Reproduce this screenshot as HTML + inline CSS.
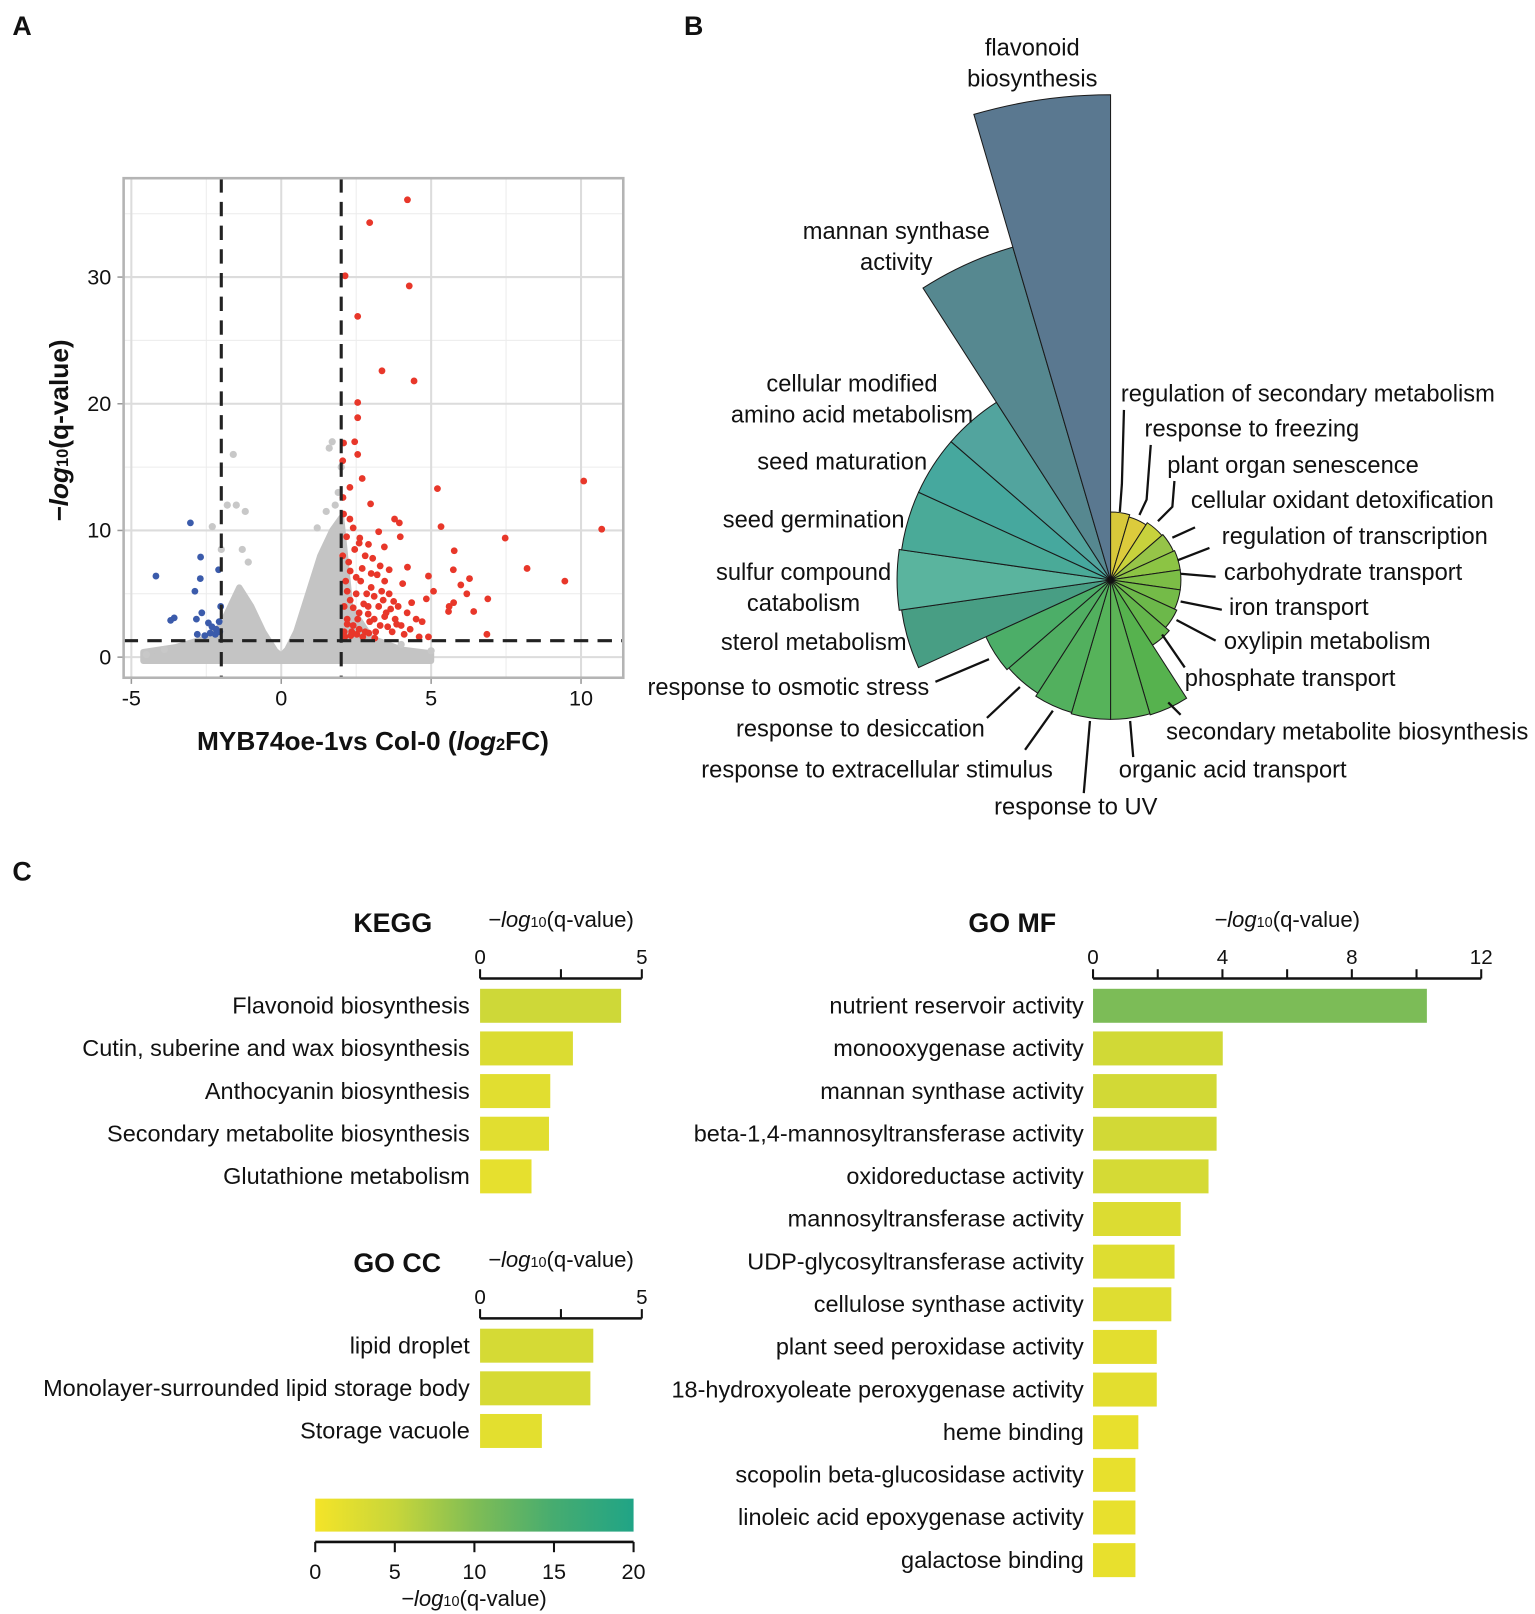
<!DOCTYPE html>
<html><head><meta charset="utf-8"><style>
html,body{margin:0;padding:0;background:#fff}
svg{display:block}
text{font-family:"Liberation Sans",sans-serif;fill:#111}
</style></head><body>
<svg id="fig" width="1535" height="1614" viewBox="0 0 1490 1567" preserveAspectRatio="none" xmlns="http://www.w3.org/2000/svg">
<g font-weight="bold" font-size="26">
<text x="12" y="34">A</text>
<text x="664" y="34">B</text>
<text x="12" y="855">C</text>
</g>
<g id="volcano"></g>
<g id="rose"></g>
<g id="bars"></g>
</svg>
<script>
// ---------- Volcano data ----------
const envelopeX = [-4.6,-3.5,-2.5,-2.0,-1.7,-1.4,-1.0,-0.6,-0.2,0,0.2,0.5,0.9,1.3,1.7,2.0,2.3,3.0,4.0,5.0];
const envelopeY = [0.4,0.8,1.5,2.5,4.0,5.5,4.0,2.0,0.5,0.1,0.6,2.0,5.0,8.0,10.0,11.0,4.0,1.5,0.6,0.3];
const grayPts = [[-1.6,16],[-1.8,12],[-1.5,12],[-1.2,11.5],[-2.3,10.3],[-1.3,8.5],[-2.0,8.5],[-1.1,7.5],[1.7,17],[1.6,16.5],[2.0,15],[1.9,13],[1.8,12],[1.5,11.5],[1.2,10.2],[-4.5,0.2],[-3.9,0.6],[5.0,0.5],[4.0,1]];
const redPts = [[4.21,36.1],[2.95,34.3],[2.13,30.1],[4.27,29.3],[2.55,26.9],[3.36,22.6],[4.43,21.8],[2.55,20.1],[2.55,18.9],[2.08,16.9],[2.45,17],[2.55,16],[2.05,15.5],[2.7,14.1],[2.29,13.4],[5.21,13.3],[10.09,13.9],[2.98,12.1],[2.06,12.6],[2.08,11.3],[2.29,10.9],[3.78,10.9],[3.94,10.6],[5.33,10.3],[10.69,10.1],[3.25,9.9],[7.47,9.4],[3.97,9.5],[2.62,9.4],[2.91,8.9],[3.44,8.7],[5.77,8.4],[4.21,7.1],[8.2,7],[5.74,6.9],[9.46,6],[4.91,6.4],[6.28,6.2],[5.99,5.7],[5.08,5.2],[6.19,5],[6.89,4.6],[4.84,4.6],[5.75,4.3],[5.6,4],[5.58,3.6],[6.42,3.6],[6.86,1.8],[4.91,1.6],
[2.1,2],[2.2,3],[2.3,4.5],[2.15,6],[2.4,2.5],[2.5,5],[2.6,3.5],[2.7,7],[2.8,2],[2.9,4],[3.0,5.5],[3.1,3],[3.2,6.5],[3.3,2.5],[3.4,4.5],[3.5,3.5],[3.6,5],[3.7,2],[3.8,3],[3.9,4],[4.0,2.5],[4.1,1.8],[4.2,3.5],[4.3,2.2],[4.5,3],[4.6,1.6],[2.05,8],[2.25,7.5],[2.45,8.5],[2.65,6],[2.85,5],[3.05,7.8],[3.25,4],[3.45,6],[3.65,3.8],[2.1,4],[2.2,5.2],[2.35,2],[2.55,3],[2.75,4.2],[2.95,2.8],[3.15,2],[3.35,5.2],[3.55,2.4],[3.75,4.4],[2.12,1.6],[2.32,1.7],[2.52,1.8],[2.72,1.6],[2.92,1.9],[3.12,1.5],[2.18,9.5],[2.4,10.2],[2.6,9],[2.3,6.8],[2.5,6.3],[2.8,8],[3.0,6.6],[3.3,7.2],[3.6,6.9],[2.9,3.4],[3.1,4.8],[2.4,3.9],[2.6,2.2],[2.2,2.6],[3.45,3.2],[3.85,2.6],[4.35,4.3],[4.7,2.8],[4.05,5.8]];
const bluePts = [[-4.18,6.4],[-3.03,10.6],[-2.69,7.9],[-2.7,6.2],[-2.88,5.2],[-2.65,3.5],[-2.83,3],[-3.57,3.1],[-3.69,2.9],[-2.8,1.8],[-2.09,6.9],[-2.02,4],[-2.43,2.7],[-2.31,2.4],[-2.17,2.2],[-2.55,1.7],[-2.2,1.8],[-2.05,2],[-2.37,1.9],[-2.07,2.8]];
const volXTicks = [-5,0,5,10];
const volYTicks = [0,10,20,30];
const fcCut = 2, qCut = 1.3;

// ---------- Rose data ----------
const roseCats = ["regulation of secondary metabolism","response to freezing","plant organ senescence","cellular oxidant detoxification","regulation of transcription","carbohydrate transport","iron transport","oxylipin metabolism","phosphate transport","secondary metabolite biosynthesis","organic acid transport","response to UV","response to extracellular stimulus","response to desiccation","response to osmotic stress","sterol metabolism","sulfur compound catabolism","seed germination","seed maturation","cellular modified amino acid metabolism","mannan synthase activity","flavonoid biosynthesis"];
const roseVals = [2.8,2.7,2.8,2.85,2.9,2.9,2.9,3.0,3.2,5.8,5.75,5.75,5.7,5.55,5.65,8.7,8.8,8.7,8.7,8.7,14.3,20];
const roseColors = ["#d8c83a","#dccb3c","#c8d23c","#96c448","#8cc444","#7cbd46","#74bb48","#6cb84a","#64b64c","#56b24e","#5cb456","#56b35a","#52b05e","#50ae62","#4cae68","#489e84","#5ab49e","#4aaa98","#46a89e","#52a49e","#568890","#5a7890"];

// ---------- Bar data ----------
const keggCats = ["Flavonoid biosynthesis","Cutin, suberine and wax biosynthesis","Anthocyanin biosynthesis","Secondary metabolite biosynthesis","Glutathione metabolism"];
const keggVals = [4.36,2.87,2.17,2.13,1.59];
const ccCats = ["lipid droplet","Monolayer-surrounded lipid storage body","Storage vacuole"];
const ccVals = [3.5,3.41,1.91];
const mfCats = ["nutrient reservoir activity","monooxygenase activity","mannan synthase activity","beta-1,4-mannosyltransferase activity","oxidoreductase activity","mannosyltransferase activity","UDP-glycosyltransferase activity","cellulose synthase activity","plant seed peroxidase activity","18-hydroxyoleate peroxygenase activity","heme binding","scopolin beta-glucosidase activity","linoleic acid epoxygenase activity","galactose binding"];
const mfVals = [10.32,4.01,3.82,3.82,3.57,2.71,2.52,2.42,1.97,1.97,1.40,1.31,1.31,1.31];
const smallTicks = [0,5];
const mfTicks = [0,4,8,12];
const cbTicks = [0,5,10,15,20];

const NS="http://www.w3.org/2000/svg";
function mk(tag, attrs, parent, txt){const e=document.createElementNS(NS,tag);for(const k in attrs)e.setAttribute(k,attrs[k]);if(txt!==undefined)e.textContent=txt;parent.appendChild(e);return e;}

// ===== Volcano =====
(function(){
const g=document.getElementById('volcano');
const xs=v=>273+v*29.1, ys=v=>638-v*12.3;
const L=120,R=605,T=173,B=658;
const bg=mk('rect',{x:L,y:T,width:R-L,height:B-T,fill:'#fff'},g);

[-2.5,2.5,7.5].forEach(v=>{const l=mk('line',{x1:xs(v),x2:xs(v),y1:T,y2:B,stroke:'#ececec','stroke-width':1},g);});
[5,15,25,35].forEach(v=>{const l=mk('line',{x1:L,x2:R,y1:ys(v),y2:ys(v),stroke:'#ececec','stroke-width':1},g);});
volXTicks.forEach(v=>{const l=mk('line',{x1:xs(v),x2:xs(v),y1:T,y2:B,stroke:'#dcdcdc','stroke-width':2},g);
 const tk=mk('line',{x1:xs(v),x2:xs(v),y1:B,y2:B+6,stroke:'#999','stroke-width':1.5},g);
 const t=mk('text',{x:xs(v),y:B+27,'text-anchor':'middle','font-size':21,fill:'#333'},g,String(v));});
volYTicks.forEach(v=>{const l=mk('line',{x1:L,x2:R,y1:ys(v),y2:ys(v),stroke:'#dcdcdc','stroke-width':2},g);
 const tk=mk('line',{x1:L-6,x2:L,y1:ys(v),y2:ys(v),stroke:'#999','stroke-width':1.5},g);
 const t=mk('text',{x:L-12,y:ys(v)+7,'text-anchor':'end','font-size':21,fill:'#333'},g,String(v));});
let d='M'+xs(envelopeX[0])+','+ys(-0.3);
envelopeX.forEach((x,i)=>{d+=' L'+xs(x)+','+ys(envelopeY[i]);});
d+=' L'+xs(envelopeX[envelopeX.length-1])+','+ys(-0.3)+' Z';
const env=mk('path',{d:d,fill:'#c4c4c4',stroke:'#c4c4c4','stroke-width':6,'stroke-linejoin':'round'},g);

grayPts.forEach(p=>{const c=mk('circle',{cx:xs(p[0]),cy:ys(p[1]),r:3.5,fill:'#c8c8c8'},g);});
redPts.forEach(p=>{const c=mk('circle',{cx:xs(p[0]),cy:ys(p[1]),r:3.3,fill:'#e8372a'},g);});
bluePts.forEach(p=>{const c=mk('circle',{cx:xs(p[0]),cy:ys(p[1]),r:3.3,fill:'#3b5bab'},g);});
[-fcCut,fcCut].forEach(v=>{const l=mk('line',{x1:xs(v),x2:xs(v),y1:T,y2:B,stroke:'#222','stroke-width':3,'stroke-dasharray':'14,9'},g);});
const hl=mk('line',{x1:L,x2:R,y1:ys(qCut),y2:ys(qCut),stroke:'#222','stroke-width':3,'stroke-dasharray':'14,9'},g);
const br=mk('rect',{x:L,y:T,width:R-L,height:B-T,fill:'none',stroke:'#b4b4b4','stroke-width':2.5},g);
const xt=mk('text',{x:362,y:728,'text-anchor':'middle','font-size':25.5,'font-weight':'bold'},g);
xt.innerHTML='MYB74oe-1vs Col-0 (<tspan font-style="italic">log</tspan><tspan font-size="16">2</tspan>FC)';
const yt=mk('text',{x:0,y:0,'text-anchor':'middle','font-size':25.5,'font-weight':'bold',transform:'translate(66,418) rotate(-90)'},g);
yt.innerHTML='<tspan font-style="italic">−log</tspan><tspan font-size="16">10</tspan>(q-value)';
})();

// ===== Rose =====
(function(){
const g=document.getElementById('rose');
const cx=1078, cy=563, n=roseCats.length, step=360/n;
const rs=v=>v/20*471;
const pt=(a,r)=>[cx+r*Math.sin(a*Math.PI/180), cy-r*Math.cos(a*Math.PI/180)];
roseVals.forEach((v,i)=>{
 const r=rs(v), a0=i*step, a1=(i+1)*step;
 const p0=pt(a0,r), p1=pt(a1,r);
 const w=mk('path',{d:`M${cx},${cy} L${p0[0]},${p0[1]} A${r},${r} 0 0 1 ${p1[0]},${p1[1]} Z`,fill:roseColors[i],stroke:'#1a1a1a','stroke-width':1},g);
 
});
const hub=mk('circle',{cx:cx,cy:cy,r:3,fill:'#111'},g);

const labels=[
 [1088,390,'start',['regulation of secondary metabolism'],[[1091,398],[1089,470],[1087,497]]],
 [1111,424,'start',['response to freezing'],[[1117,432],[1113,485],[1106,500]]],
 [1133,459,'start',['plant organ senescence'],[[1140,467],[1138,492],[1124,506]]],
 [1156,493,'start',['cellular oxidant detoxification'],[[1160,512],[1138,522]]],
 [1186,528,'start',['regulation of transcription'],[[1174,532],[1143,544]]],
 [1188,563,'start',['carbohydrate transport'],[[1180,560],[1146,557]]],
 [1193,597,'start',['iron transport'],[[1186,592],[1146,584]]],
 [1188,630,'start',['oxylipin metabolism'],[[1180,622],[1142,602]]],
 [1150,666,'start',['phosphate transport'],[[1150,648],[1128,616]]],
 [1132,718,'start',['secondary metabolite biosynthesis'],[[1146,694],[1134,682]]],
 [1086,755,'start',['organic acid transport'],[[1100,735],[1097,700]]],
 [965,791,'start',['response to UV'],[[1052,770],[1058,700]]],
 [1022,755,'end',['response to extracellular stimulus'],[[995,728],[1022,690]]],
 [956,715,'end',['response to desiccation'],[[958,697],[990,667]]],
 [902,675,'end',['response to osmotic stress'],[[908,662],[960,640]]],
 [880,631,'end',['sterol metabolism'],null],
 [780,563,'middle',['sulfur compound','catabolism'],null],
 [878,512,'end',['seed germination'],null],
 [900,456,'end',['seed maturation'],null],
 [827,380,'middle',['cellular modified','amino acid metabolism'],null],
 [870,232,'middle',['mannan synthase','activity'],null],
 [1002,54,'middle',['flavonoid','biosynthesis'],null]
];
labels.forEach(l=>{
 l[3].forEach((s,k)=>{const t=mk('text',{x:l[0],y:l[1]+k*30,'text-anchor':l[2],'font-size':23},g,s);});
 if(l[4]){const pl=mk('polyline',{points:l[4].map(p=>p.join(',')).join(' '),fill:'none',stroke:'#111','stroke-width':2.2},g);}
});
})();

// ===== Bars =====
function colorFor(v){
 const stops=[[0,[244,228,40]],[5,[200,214,58]],[10,[128,189,85]],[15,[70,172,112]],[20,[32,164,134]]];
 v=Math.max(0,Math.min(20,v));
 for(let i=0;i<stops.length-1;i++){const a=stops[i],b=stops[i+1];if(v<=b[0]){const t=(v-a[0])/(b[0]-a[0]);return 'rgb('+a[1].map((c,j)=>Math.round(c+(b[1][j]-c)*t)).join(',')+')';}}
 return 'rgb(32,164,134)';
}
(function(){
const g=document.getElementById('bars');
function chart(name,title,titleX,axisY,x0,unit,max,ticks,minor,cats,vals,labelX){
 const sc=v=>x0+v*unit;
 const tt=mk('text',{x:titleX,y:axisY-45,'font-size':26,'font-weight':'bold'},g,title);
 const at=mk('text',{x:(sc(0)+sc(max))/2,y:axisY-50,'text-anchor':'middle','font-size':21.5},g);
 at.innerHTML='<tspan font-style="italic">−log</tspan><tspan font-size="14">10</tspan>(q-value)';
 const ax=mk('line',{x1:sc(0),x2:sc(max),y1:axisY,y2:axisY,stroke:'#111','stroke-width':2.5},g);
 minor.forEach(v=>{const tk=mk('line',{x1:sc(v),x2:sc(v),y1:axisY-9,y2:axisY,stroke:'#111','stroke-width':2},g);});
 ticks.forEach(v=>{const t=mk('text',{x:sc(v),y:axisY-14,'text-anchor':'middle','font-size':20},g,String(v));});
 cats.forEach((c,i)=>{
  const y=axisY+10+i*41.4;
  const b=mk('rect',{x:sc(0),y:y,width:sc(vals[i])-sc(0),height:33,fill:colorFor(vals[i])},g);
  const t=mk('text',{x:labelX,y:y+24,'text-anchor':'end','font-size':22.8},g,c);
 });
}
chart('kegg','KEGG',343,950,466,31.4,5,smallTicks,[0,2.5,5],keggCats,keggVals,456);
chart('go-cc','GO CC',343,1280,466,31.4,5,smallTicks,[0,2.5,5],ccCats,ccVals,456);
chart('go-mf','GO MF',940,950,1061,31.4,12,mfTicks,[0,2,4,6,8,10,12],mfCats,mfVals,1052);
// colorbar
const defs=mk('defs',{},g);
const lg=mk('linearGradient',{id:'cbg',x1:0,x2:1,y1:0,y2:0},defs);
[0,5,10,15,20].forEach(v=>mk('stop',{offset:(v/20),'stop-color':colorFor(v)},lg));
const cb=mk('rect',{x:306,y:1455,width:309,height:32,fill:'url(#cbg)'},g);
const cbs=v=>306+v/20*309;
const cl=mk('line',{x1:306,x2:615,y1:1497,y2:1497,stroke:'#111','stroke-width':2.5},g);
cbTicks.forEach(v=>{const tk=mk('line',{x1:cbs(v),x2:cbs(v),y1:1497,y2:1507,stroke:'#111','stroke-width':2},g);
 const t=mk('text',{x:cbs(v),y:1533,'text-anchor':'middle','font-size':21},g,String(v));});
const ct=mk('text',{x:460,y:1559,'text-anchor':'middle','font-size':21.5},g);
ct.innerHTML='<tspan font-style="italic">−log</tspan><tspan font-size="14">10</tspan>(q-value)';
})();
</script>
</body></html>
